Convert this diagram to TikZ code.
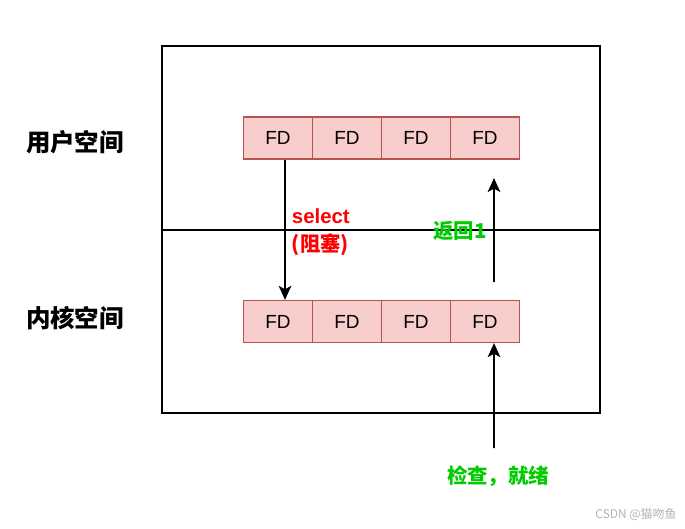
\documentclass[tikz,border=0pt]{standalone}
\usepackage{fontspec}
\setmainfont{Liberation Sans}
\newfontfamily\cjk{Noto Sans CJK SC}
\usetikzlibrary{arrows.meta}
\definecolor{fdfill}{HTML}{F8CECC}
\definecolor{fdline}{HTML}{B85450}
\definecolor{okgreen}{HTML}{00CC00}
\begin{document}
\begin{tikzpicture}[
  x=0.025cm, y=-0.025cm,
  fd/.style={draw=fdline, fill=fdfill, line width=0.9pt, minimum width=1.725cm, minimum height=1.05cm, inner sep=0pt, font=\fontsize{13.5}{16}\selectfont},
  space/.style={font=\cjk\bfseries\fontsize{17.4}{20}\selectfont},
  arr/.style={-{Stealth[length=10pt,width=9pt,inset=2.5pt]}, line width=1.2pt}
]
\useasboundingbox (0,0) rectangle (685,528);
\draw[line width=1.1pt] (162,46) rectangle (600,413);
\draw[line width=1.1pt] (162,230) -- (600,230);

\node[space] (user) at (75,142) {用户空间};
\node[space] (kernel) at (75,318) {内核空间};

\node[fd] (u1) at (278,138) {FD};
\node[fd] (u2) at (347,138) {FD};
\node[fd] (u3) at (416,138) {FD};
\node[fd] (u4) at (485,138) {FD};
\node[fd] (k1) at (278,321.5) {FD};
\node[fd] (k2) at (347,321.5) {FD};
\node[fd] (k3) at (416,321.5) {FD};
\node[fd] (k4) at (485,321.5) {FD};

\node[text=red, align=left, anchor=west, font=\bfseries\fontsize{14.5}{17}\selectfont] (sel) at (287,232) {select\\[3pt]{\cjk(阻塞)}};
\node[text=okgreen, font=\cjk\bfseries\fontsize{14.5}{17}\selectfont] (ret) at (460,231) {返回1};
\node[text=okgreen, font=\cjk\bfseries\fontsize{14.5}{17}\selectfont] (check) at (498,476) {检查，就绪};
\node[text=black!30, font=\cjk\fontsize{8.5}{10}\selectfont] (mark) at (636,514) {CSDN @猫吻鱼};

\coordinate (retfrom) at (494,282);
\coordinate (retto) at (494,178);
\coordinate (checkfrom) at (494,448);

\draw[arr] ([xshift=0.175cm]u1.south) -- ([xshift=0.175cm]k1.north);
\draw[arr] (retfrom) -- (retto);
\draw[arr] (checkfrom) -- ([xshift=0.225cm]k4.south);
\end{tikzpicture}
\end{document}
